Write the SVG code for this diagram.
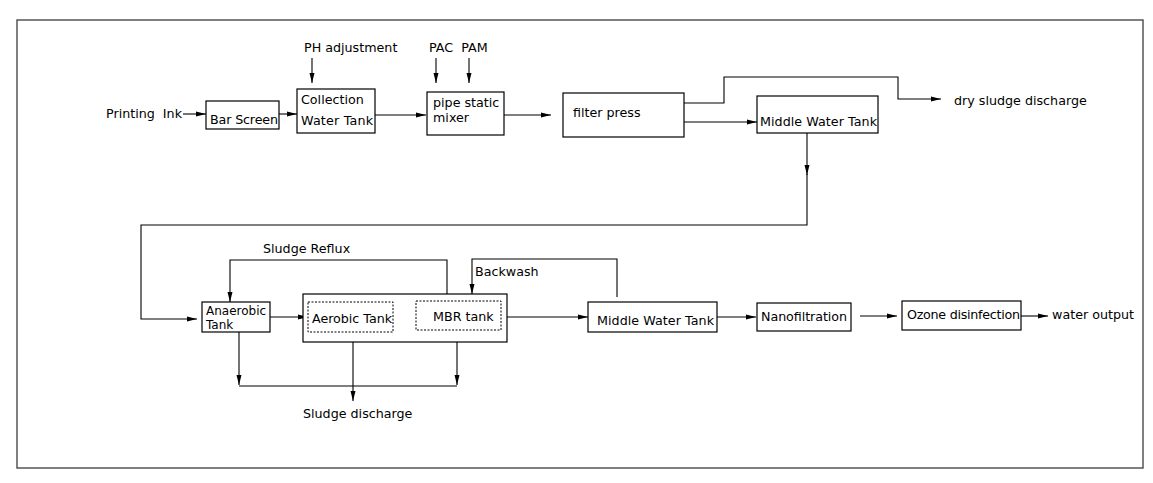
<svg xmlns="http://www.w3.org/2000/svg" width="1153" height="483" viewBox="0 0 1153 483">
<style>
  text { font-family: "DejaVu Sans", "Liberation Sans", sans-serif; font-size: 12.7px; fill: #000; }
  .sm { font-size: 12px; }
  .box { fill: #fff; stroke: #000; stroke-width: 1.2; }
  .dash { fill: none; stroke: #000; stroke-width: 1; stroke-dasharray: 2 1.5; }
  .ln { fill: none; stroke: #000; stroke-width: 1.1; }
  .arr { fill: none; stroke: #000; stroke-width: 1.1; marker-end: url(#ah); }
</style>
<defs>
  <marker id="ah" viewBox="0 0 10 6" refX="10" refY="3" markerWidth="10" markerHeight="6" markerUnits="userSpaceOnUse" orient="auto">
    <path d="M0,0.5 L10,3 L0,5.5 Z" fill="#000"/>
  </marker>
</defs>
<rect x="0" y="0" width="1153" height="483" fill="#fff"/>
<rect id="frame" x="17" y="20" width="1126" height="448" fill="none" stroke="#555" stroke-width="1.5"/>

<g id="connectors">
  <line class="arr" x1="183" y1="114" x2="206" y2="114"/>
  <line class="arr" x1="279" y1="114" x2="297" y2="114"/>
  <line class="arr" x1="312" y1="58" x2="312" y2="83"/>
  <line class="arr" x1="375" y1="115" x2="426" y2="115"/>
  <line class="arr" x1="436" y1="58" x2="436" y2="83"/>
  <line class="arr" x1="469" y1="58" x2="469" y2="83"/>
  <line class="arr" x1="504" y1="115" x2="551" y2="115"/>
  <polyline class="arr" points="684,103 724,103 724,77 898,77 898,99 941,99"/>
  <line class="arr" x1="684" y1="122" x2="757" y2="122"/>
  <line class="arr" x1="807" y1="133" x2="807" y2="175"/>
  <polyline class="arr" points="807,174 807,225 141,225 141,319 197,319"/>
  <line class="arr" x1="270" y1="317" x2="308" y2="317"/>
  <polyline class="arr" points="447,294 447,260 230,260 230,302"/>
  <polyline class="arr" points="617,297 617,259 472,259 472,294"/>
  <line class="arr" x1="507" y1="317" x2="588" y2="317"/>
  <line class="arr" x1="717" y1="317" x2="756" y2="317"/>
  <line class="arr" x1="860" y1="316" x2="897" y2="316"/>
  <line class="arr" x1="1021" y1="316" x2="1048" y2="316"/>
  <line class="arr" x1="239" y1="332" x2="239" y2="385"/>
  <line class="arr" x1="457" y1="342" x2="457" y2="385"/>
  <line class="ln" x1="239" y1="386" x2="457" y2="386"/>
  <line class="arr" x1="353" y1="342" x2="353" y2="401"/>
</g>

<g id="labels">
  <text x="106" y="118" textLength="76" lengthAdjust="spacing" xml:space="preserve">Printing  Ink</text>
  <text x="304" y="52">PH adjustment</text>
  <text x="429" y="52" xml:space="preserve">PAC  PAM</text>
  <text x="954" y="105">dry sludge discharge</text>
  <text x="263" y="253">Sludge Reflux</text>
  <text x="303" y="418">Sludge discharge</text>
  <text x="1052" y="319">water output</text>
</g>

<g id="bar-screen">
  <rect class="box" x="206" y="101" width="73" height="28"/>
  <text x="210" y="124" textLength="68" lengthAdjust="spacing">Bar Screen</text>
</g>
<g id="collection-tank">
  <rect class="box" x="297" y="89" width="78" height="44"/>
  <text x="301" y="104">Collection</text>
  <text x="301" y="125" textLength="72" lengthAdjust="spacing">Water Tank</text>
</g>
<g id="mixer">
  <rect class="box" x="427" y="92" width="77" height="43"/>
  <text x="433" y="107">pipe static</text>
  <text x="433" y="122">mixer</text>
</g>
<g id="filter-press">
  <rect class="box" x="563" y="93" width="121" height="44"/>
  <text x="573" y="117">filter press</text>
</g>
<g id="middle-water-tank-1">
  <rect class="box" x="757" y="96" width="121" height="37"/>
  <text x="760" y="126" textLength="117" lengthAdjust="spacing">Middle Water Tank</text>
</g>
<g id="anaerobic-tank">
  <rect class="box" x="202" y="302" width="68" height="30"/>
  <text class="sm" x="206" y="315">Anaerobic</text>
  <text class="sm" x="206" y="329">Tank</text>
</g>
<g id="bio-tank">
  <rect class="box" x="303" y="294" width="204" height="48"/>
  <g id="aerobic-tank">
    <rect class="dash" x="308" y="302" width="85" height="30"/>
    <text x="312" y="323" textLength="80" lengthAdjust="spacing">Aerobic Tank</text>
  </g>
  <g id="mbr-tank">
    <rect class="dash" x="416" y="301" width="85" height="29"/>
    <text x="433" y="321">MBR tank</text>
  </g>
</g>
<g id="backwash-label">
  <text x="475" y="276">Backwash</text>
</g>
<g id="middle-water-tank-2">
  <rect class="box" x="588" y="302" width="129" height="30"/>
  <text x="597" y="325" textLength="117" lengthAdjust="spacing">Middle Water Tank</text>
</g>
<g id="nanofiltration">
  <rect class="box" x="757" y="303" width="94" height="28"/>
  <text x="761" y="321" textLength="86" lengthAdjust="spacing">Nanofiltration</text>
</g>
<g id="ozone">
  <rect class="box" x="902" y="301" width="119" height="29"/>
  <text x="907" y="319" textLength="113" lengthAdjust="spacing">Ozone disinfection</text>
</g>
</svg>
